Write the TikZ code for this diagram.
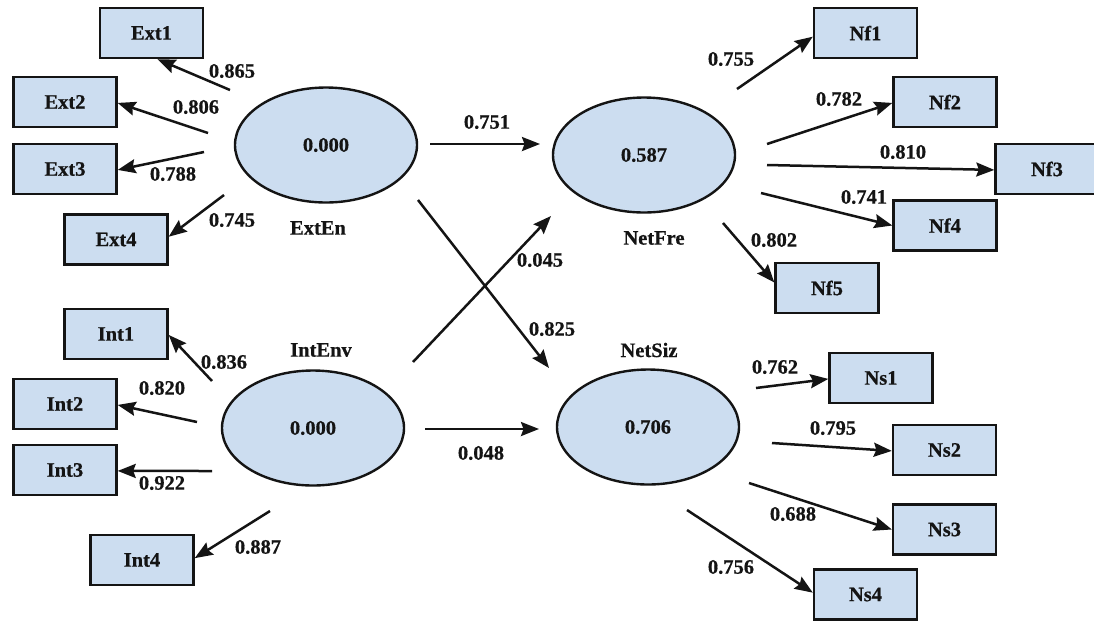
\documentclass[tikz,border=0pt]{standalone}
\usepackage{fontspec}
\setmainfont{Liberation Serif}[BoldFeatures={FakeBold=0.6}]
\usetikzlibrary{arrows.meta,calc,shapes.geometric}
\definecolor{boxfill}{RGB}{204,221,240}
\definecolor{ink}{RGB}{20,20,20}
\begin{document}
\begin{tikzpicture}[x=1pt,y=-1pt,
  every node/.style={font=\fontsize{20.5}{24}\selectfont\bfseries, text=ink},
  obs/.style={draw=ink, line width=2.4pt, fill=boxfill, minimum width=103pt, minimum height=50pt, inner sep=0pt},
  lat/.style={ellipse, draw=ink, line width=2.4pt, fill=boxfill, minimum width=182pt, minimum height=115pt, inner sep=0pt},
  lbl/.style={inner sep=0pt},
  arr/.style={draw=ink, line width=2.5pt, -{Stealth[length=18pt,width=14pt,inset=2.5pt]}}]
\useasboundingbox[fill=white] (0,0) rectangle (1094,622);

% latent variables
\node[lat] (ExtEn)  at (326,145) {0.000};
\node[lat] (NetFre) at (644,155) {0.587};
\node[lat] (IntEnv) at (313,428) {0.000};
\node[lat] (NetSiz) at (648,427) {0.706};

% indicators
\node[obs] (Ext1) at (151.5,33)  {Ext1};
\node[obs] (Ext2) at (65,102)    {Ext2};
\node[obs] (Ext3) at (65,169)    {Ext3};
\node[obs] (Ext4) at (116,239.5) {Ext4};
\node[obs] (Int1) at (116,334)   {Int1};
\node[obs] (Int2) at (65,404)    {Int2};
\node[obs] (Int3) at (65,470)    {Int3};
\node[obs] (Int4) at (142,560)   {Int4};
\node[obs] (Nf1) at (865.5,33)   {Nf1};
\node[obs] (Nf2) at (945,102)    {Nf2};
\node[obs] (Nf3) at (1047,169)   {Nf3};
\node[obs] (Nf4) at (945,225.5)  {Nf4};
\node[obs] (Nf5) at (827,288)    {Nf5};
\node[obs] (Ns1) at (881,378)    {Ns1};
\node[obs] (Ns2) at (944.5,450)  {Ns2};
\node[obs] (Ns3) at (944.5,529.5){Ns3};
\node[obs] (Ns4) at (865.5,594.5){Ns4};

% construct names
\node[lbl] (nExtEn)  at (318,228) {ExtEn};
\node[lbl] (nIntEnv) at (321,350) {IntEnv};
\node[lbl] (nNetFre) at (654,238) {NetFre};
\node[lbl] (nNetSiz) at (649,350) {NetSiz};

% structural paths
\draw[arr] ($(ExtEn)+(104,-1)$) -- ($(NetFre)+(-104,-11)$);
\draw[arr] ($(ExtEn)+(92,55)$) -- ($(NetSiz)+(-99,-59)$);
\draw[arr] ($(IntEnv)+(100,-66)$) -- ($(NetFre)+(-93,61)$);
\draw[arr] ($(IntEnv)+(112,1)$) -- ($(NetSiz)+(-109,2)$);

% loadings ExtEn
\draw[arr] ($(ExtEn)+(-96,-55)$) -- (Ext1.-77);
\draw[arr] ($(ExtEn)+(-118,-12)$) -- (Ext2.-1);
\draw[arr] ($(ExtEn)+(-122,7)$) -- (Ext3.-1);
\draw[arr] ($(ExtEn)+(-102,50)$) -- (Ext4.3);
% loadings IntEnv
\draw[arr] ($(IntEnv)+(-101,-47)$) -- (Int1.-1);
\draw[arr] ($(IntEnv)+(-116,-6)$) -- (Int2.-1);
\draw[arr] ($(IntEnv)+(-101,43)$) -- (Int3.-1);
\draw[arr] ($(IntEnv)+(-43,83)$) -- (Int4.2);
% loadings NetFre
\draw[arr] ($(NetFre)+(93,-66)$) -- (Nf1.184);
\draw[arr] ($(NetFre)+(123,-11)$) -- (Nf2.181);
\draw[arr] ($(NetFre)+(123,10)$) -- (Nf3.181);
\draw[arr] ($(NetFre)+(117,38)$) -- (Nf4.180);
\draw[arr] ($(NetFre)+(79,68)$) -- (Nf5.174);
% loadings NetSiz
\draw[arr] ($(NetSiz)+(108,-39)$) -- (Ns1.181);
\draw[arr] ($(NetSiz)+(124,16)$) -- (Ns2.181);
\draw[arr] ($(NetSiz)+(101,56)$) -- (Ns3.180);
\draw[arr] ($(NetSiz)+(39,83)$) -- (Ns4.178);

% coefficient labels
\node[lbl] (c751) at (487,122) {0.751};
\node[lbl] (c045) at (540,260) {0.045};
\node[lbl] (c825) at (552,329) {0.825};
\node[lbl] (c048) at (481,453) {0.048};
\node[lbl] (c865) at (232,71)  {0.865};
\node[lbl] (c806) at (196,107) {0.806};
\node[lbl] (c788) at (173,174) {0.788};
\node[lbl] (c745) at (232,220) {0.745};
\node[lbl] (c836) at (224,362) {0.836};
\node[lbl] (c820) at (162,388) {0.820};
\node[lbl] (c922) at (162,483) {0.922};
\node[lbl] (c887) at (258,547) {0.887};
\node[lbl] (c755) at (731,59)  {0.755};
\node[lbl] (c782) at (839,99)  {0.782};
\node[lbl] (c810) at (903,152) {0.810};
\node[lbl] (c741) at (864,197) {0.741};
\node[lbl] (c802) at (774,240) {0.802};
\node[lbl] (c762) at (775,367) {0.762};
\node[lbl] (c795) at (833,428) {0.795};
\node[lbl] (c688) at (793,514) {0.688};
\node[lbl] (c756) at (731,567) {0.756};
\end{tikzpicture}
\end{document}
